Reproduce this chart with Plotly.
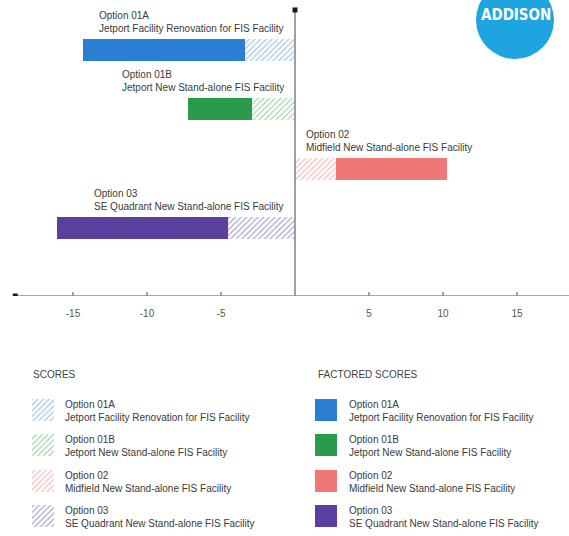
import plotly.graph_objects as go

# ---------------- data ----------------
option_codes = ["Option 01A", "Option 01B", "Option 02", "Option 03"]
option_names = [
    "Jetport Facility Renovation for FIS Facility",
    "Jetport New Stand-alone FIS Facility",
    "Midfield New Stand-alone FIS Facility",
    "SE Quadrant New Stand-alone FIS Facility",
]
scores = [-3.4, -2.9, 2.8, -4.5]
factored_scores = [-14.3, -7.2, 10.3, -16.1]
tick_values = [-15, -10, -5, 5, 10, 15]
tick_labels = ["-15", "-10", "-5", "5", "10", "15"]
solid_colors = ["#2b7fd2", "#2a9a4b", "#f07677", "#5a3f9f"]
hatch_colors = ["#a4c6e8", "#a3d4ae", "#f3bcc0", "#aba4cb"]

# ---------------- layout constants ----------------
W, H = 569, 536
X_RANGE = [-19.93, 18.51]
Y_RANGE = [4.148, -0.843]          # reversed: first option on top
AXIS_LEFT = -18.9
AXIS_TOP = -0.675
BAR_W = 0.37
TEXT_FONT = "Liberation Sans, Arial, sans-serif"
TEXT_COLOR = "#3a3a3a"
AXIS_COLOR = "#8a8a8a"

n = len(option_codes)
ypos = list(range(n))
labels = [f"{c}<br>{d}" for c, d in zip(option_codes, option_names)]
extra = [f - s for f, s in zip(factored_scores, scores)]

hatch = dict(shape="/", fillmode="replace", bgcolor="white",
             fgcolor=hatch_colors, size=4, solidity=0.3)

fig = go.Figure()

# hatched score bars (0 -> score)
fig.add_trace(go.Bar(
    orientation="h", y=ypos, x=scores, base=[0] * n, width=BAR_W,
    marker=dict(color="white", line=dict(width=0), pattern=hatch),
    hoverinfo="skip", showlegend=False,
))
# solid factored bars (score -> factored score)
fig.add_trace(go.Bar(
    orientation="h", y=ypos, x=extra, base=scores, width=BAR_W,
    marker=dict(color=solid_colors, line=dict(width=0)),
    hoverinfo="skip", showlegend=False,
))

# legend swatches on an auxiliary axis pair
LEG_W = 0.62
fig.add_trace(go.Bar(
    orientation="h", y=ypos, x=[22] * n, base=[32] * n, width=LEG_W,
    xaxis="x2", yaxis="y2",
    marker=dict(color="white", line=dict(width=0), pattern=hatch),
    hoverinfo="skip", showlegend=False,
))
fig.add_trace(go.Bar(
    orientation="h", y=ypos, x=[22] * n, base=[315] * n, width=LEG_W,
    xaxis="x2", yaxis="y2",
    marker=dict(color=solid_colors, line=dict(width=0)),
    hoverinfo="skip", showlegend=False,
))

shapes = []
# horizontal axis line
shapes.append(dict(type="line", xref="x", yref="y", x0=AXIS_LEFT, x1=X_RANGE[1],
                   y0=Y_RANGE[0], y1=Y_RANGE[0], line=dict(color=AXIS_COLOR, width=1.6)))
# vertical axis line at zero
shapes.append(dict(type="line", xref="x", yref="y", x0=0, x1=0,
                   y0=Y_RANGE[0], y1=AXIS_TOP, line=dict(color=AXIS_COLOR, width=1.6)))
# end squares
for xa, ya in [(AXIS_LEFT, Y_RANGE[0]), (0, AXIS_TOP)]:
    shapes.append(dict(type="rect", xref="x", yref="y", xsizemode="pixel", ysizemode="pixel",
                       xanchor=xa, yanchor=ya, x0=-2.5, x1=2.5, y0=-2.5, y1=2.5,
                       fillcolor="#1a1a1a", line=dict(width=0)))
# crossing tick marks
for tv in tick_values:
    shapes.append(dict(type="line", xref="x", yref="y", ysizemode="pixel",
                       yanchor=Y_RANGE[0], x0=tv, x1=tv, y0=-4, y1=4,
                       line=dict(color="#7a7a7a", width=1.3)))
# logo circle
shapes.append(dict(type="circle", xref="paper", yref="paper",
                   x0=476 / W, x1=554 / W, y0=1 - 59 / H, y1=1 + 19 / H,
                   fillcolor="#1ea5df", line=dict(width=0)))

annotations = []
for i, (lab, s) in enumerate(zip(labels, factored_scores)):
    neg = s < 0
    annotations.append(dict(
        xref="x", yref="y", x=0, y=i - BAR_W / 2,
        xanchor="right" if neg else "left", yanchor="bottom",
        xshift=-9 if neg else 9, yshift=3,
        text=lab, align="left", showarrow=False,
        font=dict(family=TEXT_FONT, size=10, color=TEXT_COLOR),
    ))
# legend titles
annotations.append(dict(xref="paper", yref="paper", x=31 / W, y=1 - 374 / H,
                        xanchor="left", yanchor="middle", text="SCORES", showarrow=False,
                        font=dict(family=TEXT_FONT, size=10, color="#444")))
annotations.append(dict(xref="paper", yref="paper", x=316 / W, y=1 - 374 / H,
                        xanchor="left", yanchor="middle", text="FACTORED SCORES", showarrow=False,
                        font=dict(family=TEXT_FONT, size=10, color="#444")))
# legend entry texts
for i, lab in enumerate(labels):
    for xl in (63, 347):
        annotations.append(dict(xref="x2", yref="y2", x=xl, y=i, xanchor="left", yanchor="middle",
                                yshift=-1, text=lab, align="left", showarrow=False,
                                font=dict(family=TEXT_FONT, size=10, color=TEXT_COLOR)))
# logo text
annotations.append(dict(xref="paper", yref="paper", x=516 / W, y=1 - 15 / H,
                        xanchor="center", yanchor="middle", text="<b>ADDISON</b>", showarrow=False,
                        font=dict(family="DejaVu Sans Condensed, DejaVu Sans",
                                  size=15, color="white")))
annotations.append(dict(xref="paper", yref="paper", x=548 / W, y=1 - 52 / H,
                        xanchor="center", yanchor="middle", text="®", showarrow=False,
                        font=dict(family=TEXT_FONT, size=5, color="white")))

fig.update_layout(
    width=W, height=H,
    margin=dict(l=0, r=0, t=0, b=0),
    paper_bgcolor="white", plot_bgcolor="rgba(0,0,0,0)",
    barmode="overlay", bargap=0,
    hovermode=False, showlegend=False,
    xaxis=dict(domain=[0, 1], range=X_RANGE, anchor="y",
               showgrid=False, zeroline=False, showline=False,
               tickmode="array", tickvals=tick_values, ticktext=tick_labels,
               ticks="outside", ticklen=8, tickcolor="rgba(0,0,0,0)",
               tickfont=dict(family=TEXT_FONT, size=10, color="#555")),
    yaxis=dict(domain=[1 - 296 / H, 1], range=Y_RANGE, anchor="x",
               visible=False),
    xaxis2=dict(domain=[0, 1], range=[0, W], anchor="y2", visible=False),
    yaxis2=dict(domain=[1 - 533.75 / H, 1 - 391.75 / H], range=[3.5, -0.5],
                anchor="x2", visible=False),
    shapes=shapes,
    annotations=annotations,
)

fig.write_html("out.html")
